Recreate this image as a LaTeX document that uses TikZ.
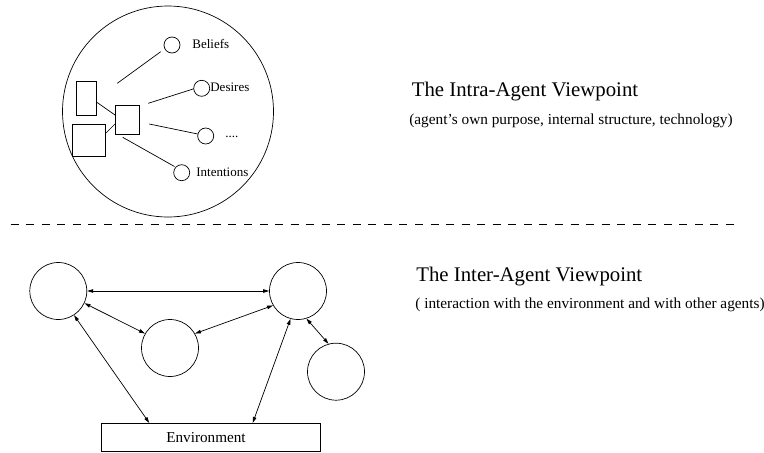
\documentclass[tikz,border=0pt]{standalone}
\usepackage{fontspec}
\setmainfont{Liberation Serif}
\usetikzlibrary{arrows.meta}
\begin{document}
\begin{tikzpicture}[x=1pt,y=-1pt,line width=0.7pt,
  agent/.style={draw,circle,minimum size=57pt,inner sep=0pt},
  small/.style={draw,circle,minimum size=16pt,inner sep=0pt},
  box/.style={draw,rectangle,inner sep=0pt},
  lbl/.style={anchor=base west,inner sep=0pt,font=\fontsize{13}{13}\selectfont},
  title/.style={anchor=base west,inner sep=0pt,font=\fontsize{20.8}{20.8}\selectfont},
  sub/.style={anchor=base west,inner sep=0pt,font=\fontsize{15.3}{15.3}\selectfont},
  dbl/.style={{Triangle[length=6pt,width=3.5pt]}-{Triangle[length=6pt,width=3.5pt]}}]
\useasboundingbox (0,0) rectangle (764,453);
% intra-agent
\node[draw,circle,minimum size=211pt,inner sep=0pt] (big) at (168,111.5) {};
\node[small] (bel) at (172,45) {};
\node[small] (des) at (201.7,88.3) {};
\node[small] (dots) at (205.7,136) {};
\node[small] (int) at (181.7,172.7) {};
\node[lbl] (tbel) at (192,48.3) {Beliefs};
\node[lbl] (tdes) at (210,91.7) {Desires};
\node[lbl] (tdots) at (225,137.3) {....};
\node[lbl] (tint) at (196,176.7) {Intentions};
\node[box,minimum width=19.3pt,minimum height=34pt] (r1) at (86.35,98) {};
\node[box,minimum width=33.4pt,minimum height=32.7pt] (r2) at (89,140.35) {};
\node[box,minimum width=24pt,minimum height=29pt] (r3) at (127,119.5) {};
\coordinate (c1) at (96,101.7);
\coordinate (c2) at (115,115);
\coordinate (c3) at (105.7,133.3);
\coordinate (c4) at (115,124);
\draw (c1) -- (c2);
\draw (c3) -- (c4);
\coordinate (l1a) at (117.3,83.3);  \coordinate (l1b) at (160.7,51.7);
\coordinate (l2a) at (148.3,103.3); \coordinate (l2b) at (193.7,88.8);
\coordinate (l3a) at (149.3,124);   \coordinate (l3b) at (197.7,134);
\coordinate (l4a) at (122.7,137.3); \coordinate (l4b) at (174.5,166.5);
\draw (l1a) -- (l1b);
\draw (l2a) -- (l2b);
\draw (l3a) -- (l3b);
\draw (l4a) -- (l4b);
\node[title] (t1) at (411.5,96) {The Intra-Agent Viewpoint};
\node[sub] (s1) at (409,124) {(agent’s own purpose, internal structure, technology)};
% separator
\coordinate (sepL) at (10.7,224);
\coordinate (sepR) at (734,224);
\draw[line width=1pt,dash pattern=on 8pt off 7.55pt] (sepL) -- (sepR);
% inter-agent
\node[agent] (A) at (58.3,291) {};
\node[agent] (B) at (298,291) {};
\node[agent] (C) at (170,348) {};
\node[agent] (D) at (336,371.7) {};
\node[draw,rectangle,minimum width=219.7pt,minimum height=28.4pt,inner sep=0pt] (env) at (210.85,437.5) {};
\node[anchor=base,inner sep=0pt,font=\fontsize{15.2}{15.2}\selectfont] (tenv) at (206,442.7) {Environment};
\draw[dbl] (A) -- (B);
\draw[dbl] (A.-25) -- (C.150);
\draw[dbl] (B.-150) -- (C.30);
\draw[dbl] (B.-73) -- (D.105);
\draw[dbl] (A.-57) -- (env.north west -| 149.3,0);
\draw[dbl] (B.-105) -- (env.north west -| 252.7,0);
\node[title] (t2) at (416,281) {The Inter-Agent Viewpoint};
\node[sub] (s2) at (415,308.3) {( interaction with the environment and with other agents)};
\end{tikzpicture}
\end{document}
